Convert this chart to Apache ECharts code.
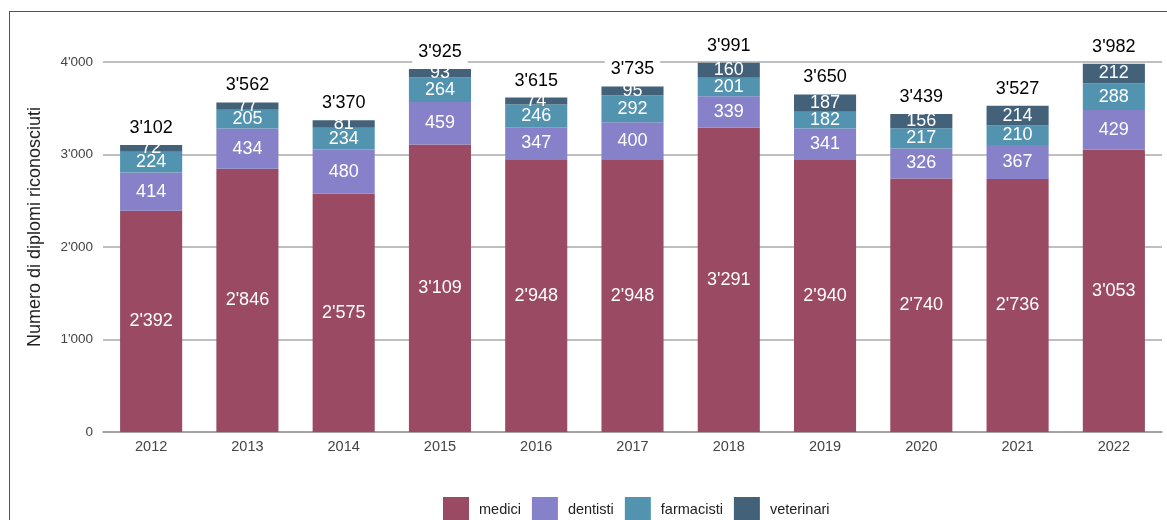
<!DOCTYPE html>
<html>
<head>
<meta charset="utf-8">
<script src="https://cdn.jsdelivr.net/npm/echarts@6/dist/echarts.min.js"></script>
<style>
  body { margin: 0; background: #fff; }
  #wrap { position: relative; width: 1167px; height: 520px; }
  #chart { width: 1167px; height: 520px; }
  #frame {
    position: absolute; left: 9px; top: 11px; right: 0; bottom: 0;
    border-left: 1.5px solid #555; border-top: 1.5px solid #555;
    pointer-events: none;
  }
</style>
</head>
<body>
<div id="wrap">
  <div id="chart"></div>
  <div id="frame"></div>
</div>
<script>
const years = ['2012', '2013', '2014', '2015', '2016', '2017', '2018', '2019', '2020', '2021', '2022']
const medici = [2392, 2846, 2575, 3109, 2948, 2948, 3291, 2940, 2740, 2736, 3053]
const dentisti = [414, 434, 480, 459, 347, 400, 339, 341, 326, 367, 429]
const farmacisti = [224, 205, 234, 264, 246, 292, 201, 182, 217, 210, 288]
const veterinari = [72, 77, 81, 93, 74, 95, 160, 187, 156, 214, 212]
const totali = [3102, 3562, 3370, 3925, 3615, 3735, 3991, 3650, 3439, 3527, 3982]

// formato svizzero con apostrofo
const fmt = v => String(v).replace(/\B(?=(\d{3})+(?!\d))/g, "'")

const font = 'Liberation Sans, Arial, sans-serif'

const innerLabel = {
  show: true,
  position: 'inside',
  color: '#fff',
  fontSize: 18,
  fontFamily: font,
  formatter: p => fmt(p.value)
}

function stackSeries (name, data, color) {
  return {
    name: name,
    type: 'bar',
    stack: 'tot',
    data: data,
    barCategoryGap: '35.5%',
    itemStyle: { color: color },
    label: innerLabel
  }
}

const option = {
  animation: false,
  grid: { left: 103, right: 5, top: 62, bottom: 88 },
  xAxis: {
    type: 'category',
    data: years,
    axisTick: { show: false },
    axisLine: { lineStyle: { color: '#999', width: 1.5 } },
    axisLabel: { color: '#444', fontSize: 14.5, margin: 7, fontFamily: font }
  },
  yAxis: {
    type: 'value',
    min: 0,
    max: 4000,
    interval: 1000,
    axisLabel: { color: '#444', fontSize: 13.5, margin: 10, fontFamily: font, formatter: v => fmt(v) },
    splitLine: { lineStyle: { color: '#aaa', width: 1.5 } }
  },
  legend: {
    data: ['medici', 'dentisti', 'farmacisti', 'veterinari'],
    left: 438,
    top: 492,
    itemWidth: 26,
    itemHeight: 26,
    itemGap: 11,
    icon: 'rect',
    textStyle: { color: '#222', fontSize: 14.5, fontFamily: font, padding: [0, 0, 0, 5] }
  },
  graphic: [{
    type: 'text',
    x: 35,
    y: 227,
    rotation: Math.PI / 2,
    style: {
      text: 'Numero di diplomi riconosciuti',
      fill: '#222',
      fontSize: 18,
      fontFamily: font,
      align: 'center',
      verticalAlign: 'middle'
    }
  }],
  series: [
    stackSeries('medici', medici, '#9a4b63'),
    stackSeries('dentisti', dentisti, '#8781c9'),
    stackSeries('farmacisti', farmacisti, '#5294b0'),
    stackSeries('veterinari', veterinari, '#43627a'),
    {
      name: 'totale',
      type: 'bar',
      data: totali,
      barGap: '-100%',
      silent: true,
      z: 1,
      itemStyle: { color: 'rgba(0,0,0,0)' },
      label: {
        show: true,
        position: 'top',
        distance: 3,
        color: '#000',
        fontSize: 18,
        fontFamily: font,
        backgroundColor: '#fff',
        padding: [5, 6],
        formatter: p => fmt(p.value)
      }
    }
  ]
}

const mycharts = echarts.init(document.getElementById('chart'))
mycharts.setOption(option)
</script>
</body>
</html>
